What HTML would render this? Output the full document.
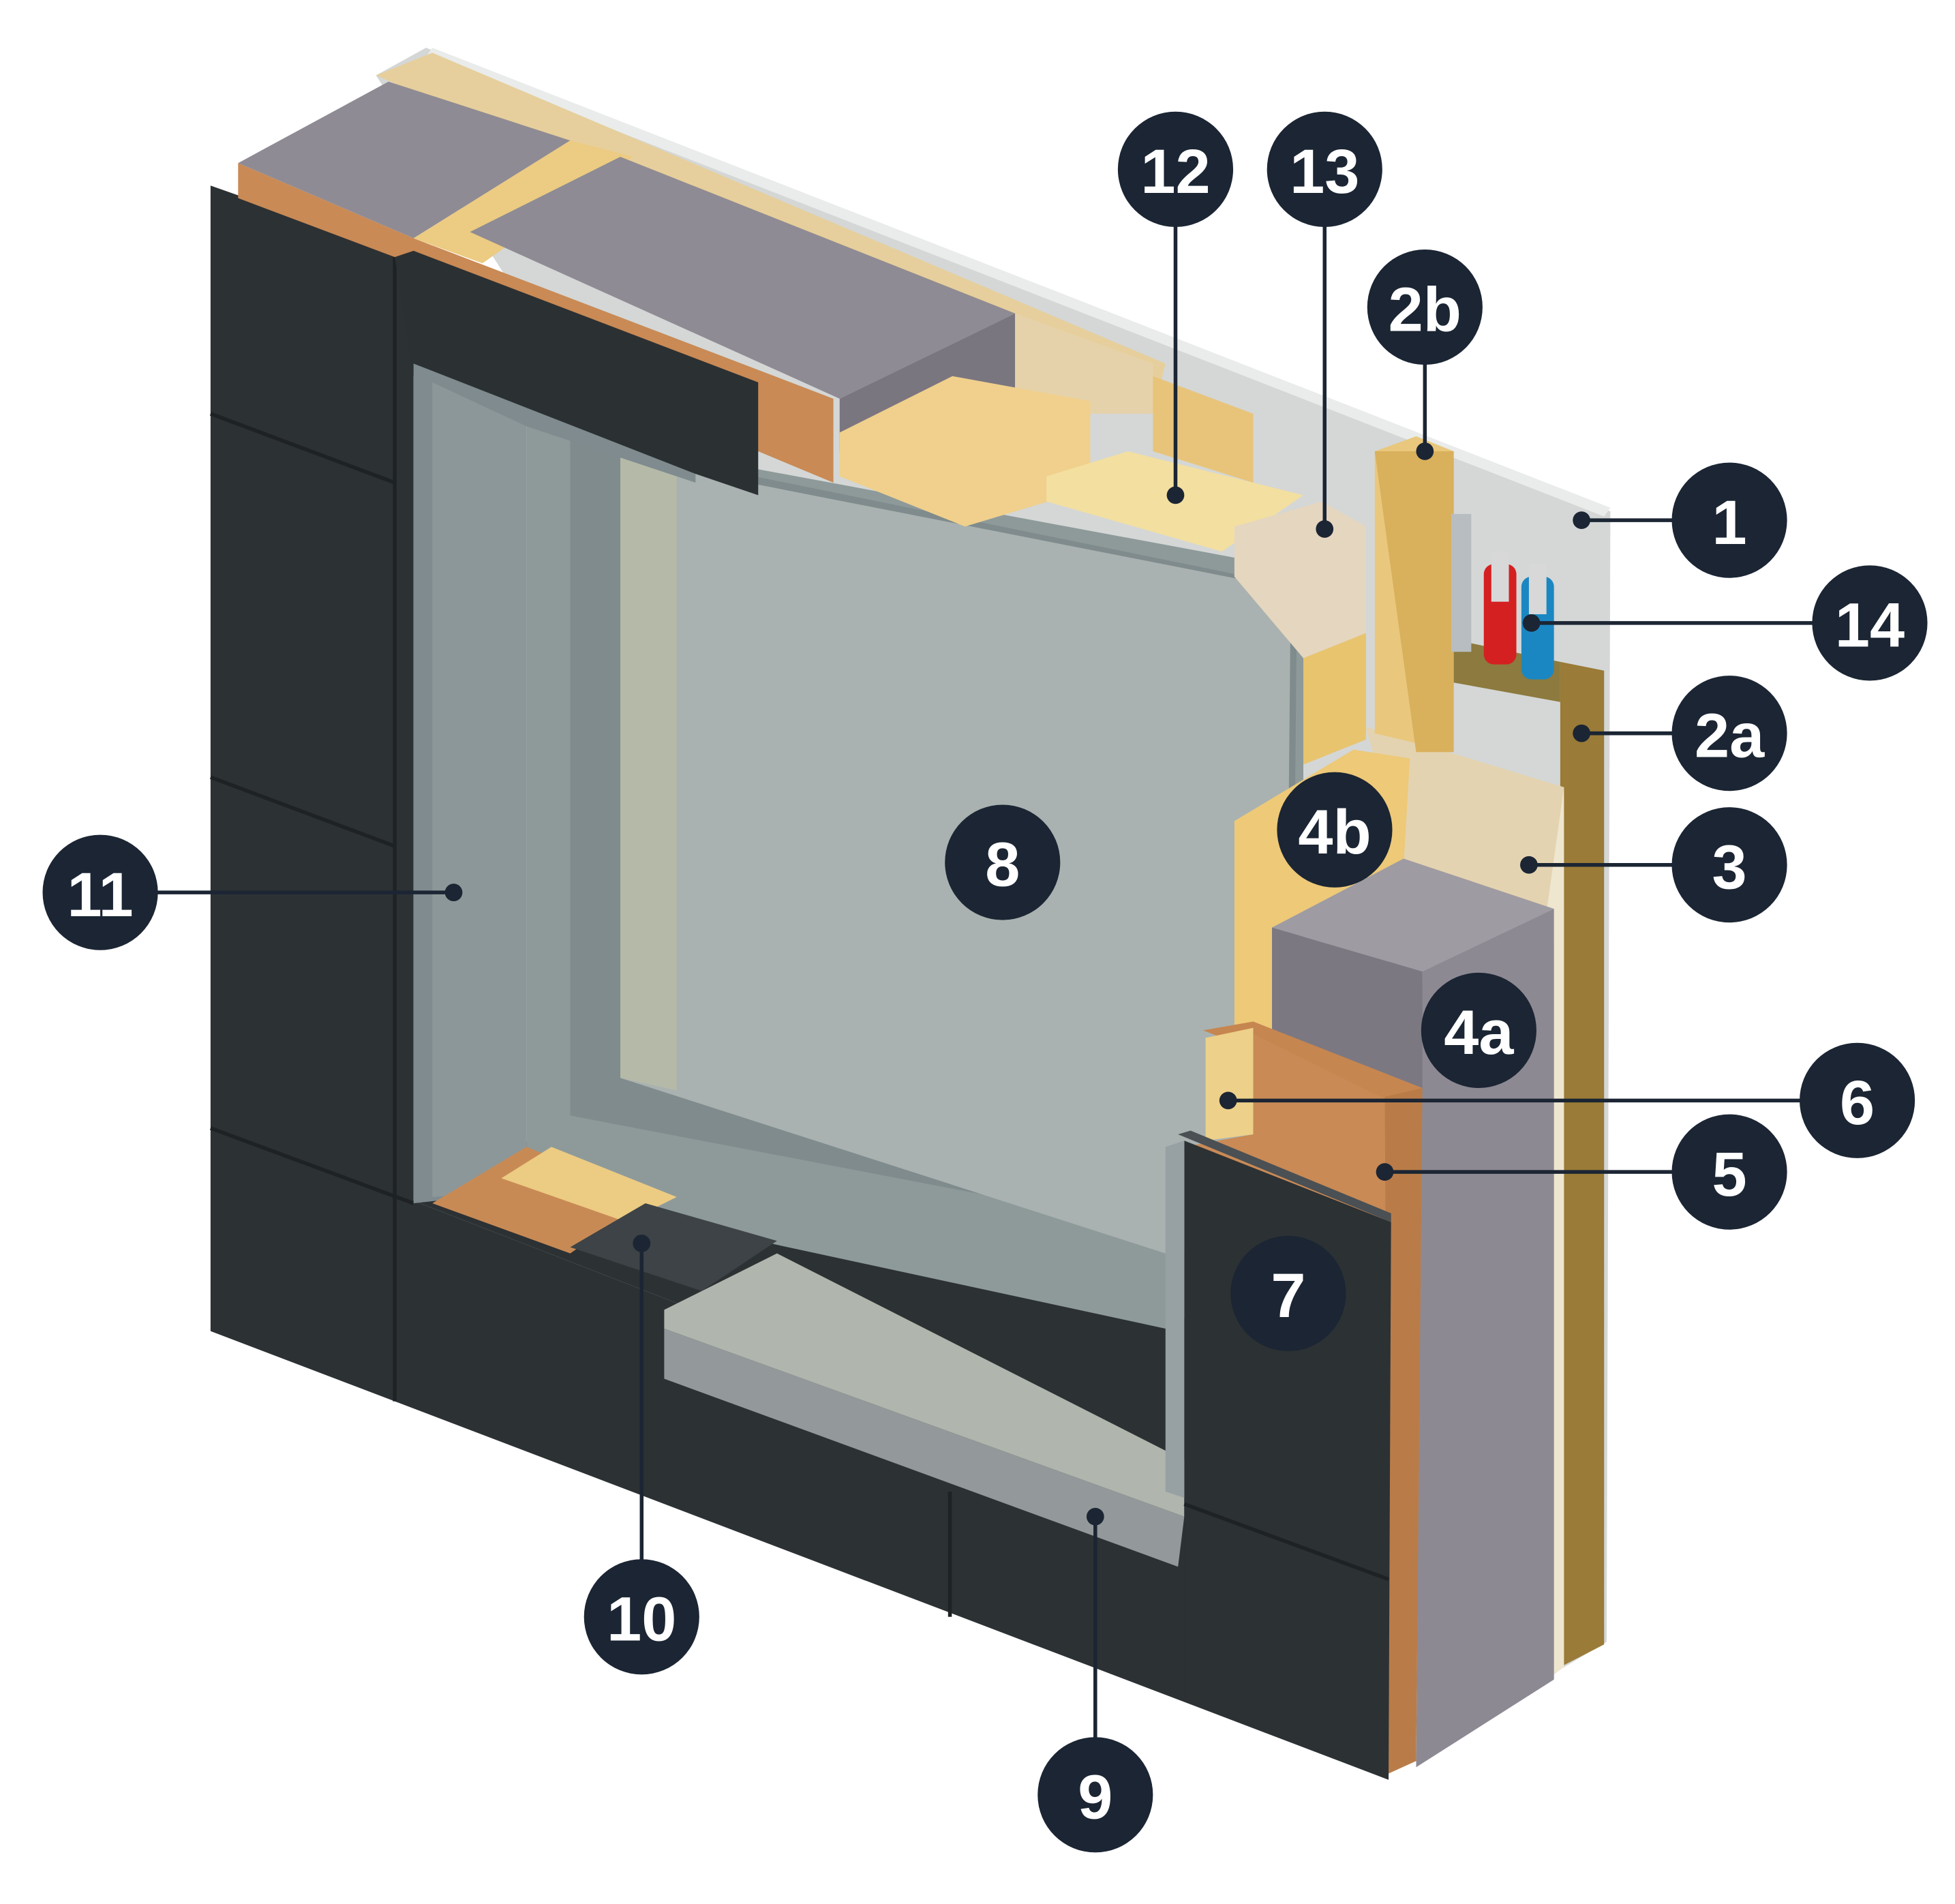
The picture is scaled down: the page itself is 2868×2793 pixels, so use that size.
<!DOCTYPE html>
<html><head><meta charset="utf-8"><style>
html,body{margin:0;padding:0;background:#fff;}
svg{display:block;}
text{font-family:"Liberation Sans",sans-serif;font-weight:bold;fill:#fff;text-anchor:middle;dominant-baseline:central;}
</style></head><body>
<svg width="2868" height="2793" viewBox="0 0 1560 1519" xmlns="http://www.w3.org/2000/svg">
<polygon points="340,38 1285,408 1282,1310 1240,1335 1100,1300 300,60" fill="#d4d7d6"/>
<polygon points="345,38 1285,405 1280,412 340,45" fill="#e9ecea"/>
<polygon points="300,60 345,42 930,290 920,330" fill="#e6cf9c"/>
<polygon points="168,148 330,205 330,958 940,1195 940,910 1110,975 1108,1420 168,1062" fill="#2c3134"/>
<polygon points="330,958 940,1195 945,990 345,900" fill="#2c3134"/>
<line x1="168" y1="330" x2="315" y2="385" stroke="#1e2224" stroke-width="3"/>
<line x1="168" y1="620" x2="315" y2="675" stroke="#1e2224" stroke-width="3"/>
<line x1="168" y1="900" x2="330" y2="960" stroke="#1e2224" stroke-width="3"/>
<line x1="315" y1="200" x2="315" y2="1118" stroke="#1e2224" stroke-width="3"/>
<line x1="758" y1="1190" x2="758" y2="1290" stroke="#1e2224" stroke-width="3"/>
<polygon points="420,340 1040,455 1040,1000 930,1060 420,950" fill="#8e9a9a"/>
<polygon points="455,350 1035,468 1030,1000 455,890" fill="#7f8b8c"/>
<polygon points="495,365 1030,470 1025,990 930,1000 495,860" fill="#a9b2b0"/>
<polygon points="495,365 540,375 540,870 495,860" fill="#b5b9a8"/>
<polygon points="330,285 555,370 555,385 420,340 420,950 330,960" fill="#7f8b8e"/>
<polygon points="345,305 420,340 420,950 345,955" fill="#8c9799"/>
<polygon points="345,960 420,915 520,955 455,1000" fill="#c88a55"/>
<polygon points="400,940 440,915 540,955 500,975" fill="#eccb82"/>
<polygon points="455,995 515,960 620,990 560,1030" fill="#3d4346"/>
<polygon points="530,1045 620,1000 945,1165 945,1210 530,1060" fill="#b0b5ad"/>
<polygon points="530,1060 945,1210 940,1250 530,1100" fill="#93999a"/>
<polygon points="190,130 310,65 455,112 330,190" fill="#8f8b94"/>
<polygon points="330,190 455,112 505,125 385,210" fill="#eccb82"/>
<polygon points="190,130 330,190 665,318 665,385 605,360 315,205 190,158" fill="#c98a55"/>
<polygon points="375,185 495,125 810,250 670,318" fill="#8f8b94"/>
<polygon points="670,318 810,250 810,330 670,360" fill="#7a7680"/>
<polygon points="810,250 920,290 920,330 810,330" fill="#e6d2aa"/>
<polygon points="670,345 760,300 870,320 870,390 770,420 670,380" fill="#f0d08c"/>
<polygon points="835,380 900,360 1040,395 975,440 835,400" fill="#f3dfa0"/>
<polygon points="920,300 1000,330 1000,385 920,360" fill="#e8c47a"/>
<polygon points="985,420 1055,400 1090,420 1090,505 1040,525 985,460" fill="#e5d6bf"/>
<polygon points="315,205 330,200 605,305 605,395 555,378 330,290 330,300" fill="#2b3033"/>
<polygon points="1245,528 1280,535 1280,1312 1245,1330" fill="#9a7b37"/>
<polygon points="1135,505 1245,528 1245,560 1135,540" fill="#8c7a3e"/>
<polygon points="1233,632 1248,628 1248,1330 1235,1340" fill="#efe6d0"/>
<polygon points="1090,580 1248,628 1233,735 1120,690" fill="#e4d3b0"/>
<polygon points="985,655 1080,598 1125,605 1120,690 1015,740 1015,830 985,820" fill="#edc978"/>
<polygon points="1040,525 1090,505 1090,590 1040,610" fill="#e8c46f"/>
<polygon points="1015,740 1120,685 1240,725 1135,775" fill="#9e9ba3"/>
<polygon points="1135,775 1240,725 1240,1340 1130,1410" fill="#8d8993"/>
<polygon points="1015,740 1135,775 1135,870 1015,835" fill="#7c7882"/>
<polygon points="1097,360 1130,348 1160,360 1160,600 1097,585" fill="#e9c77c"/>
<polygon points="1097,360 1160,360 1160,600 1130,600" fill="#d9b05c"/>
<rect x="1158" y="410" width="16" height="110" fill="#b7bdc0"/>
<rect x="1184" y="450" width="26" height="80" fill="#d42020" rx="8"/>
<rect x="1190" y="440" width="14" height="40" fill="#d8d8d8"/>
<rect x="1214" y="460" width="26" height="82" fill="#1b87c2" rx="8"/>
<rect x="1220" y="450" width="14" height="40" fill="#d8d8d8"/>
<polygon points="960,822 1000,815 1135,868 1108,880" fill="#c68650"/>
<polygon points="1000,825 1108,878 1108,980 945,915 1000,905" fill="#c98a55"/>
<polygon points="1105,875 1135,868 1130,1405 1108,1415" fill="#b97c48"/>
<polygon points="962,828 1000,820 1000,905 962,910" fill="#edd089"/>
<polygon points="945,910 1110,975 1108,1420 945,1355" fill="#2c3134"/>
<polygon points="940,905 950,902 1110,968 1110,975" fill="#4a5054"/>
<line x1="945" y1="1200" x2="1108" y2="1260" stroke="#1e2224" stroke-width="3"/>
<polygon points="930,915 945,910 945,1195 930,1190" fill="#97a1a3"/>
<g stroke="#1b2533" stroke-width="3" fill="none">
<line x1="938" y1="180" x2="938" y2="395"/>
<line x1="1057" y1="180" x2="1057" y2="422"/>
<line x1="1137" y1="290" x2="1137" y2="360"/>
<line x1="1335" y1="415" x2="1262" y2="415"/>
<line x1="1447" y1="497" x2="1222" y2="497"/>
<line x1="1335" y1="585" x2="1262" y2="585"/>
<line x1="1335" y1="690" x2="1220" y2="690"/>
<line x1="125" y1="712" x2="362" y2="712"/>
<line x1="1437" y1="878" x2="980" y2="878"/>
<line x1="1335" y1="935" x2="1105" y2="935"/>
<line x1="512" y1="1245" x2="512" y2="992"/>
<line x1="874" y1="1387" x2="874" y2="1210"/>
</g>
<g fill="#1b2533">
<circle cx="938" cy="395" r="7"/><circle cx="1057" cy="422" r="7"/><circle cx="1137" cy="360" r="7"/>
<circle cx="1262" cy="415" r="7"/><circle cx="1222" cy="497" r="7"/><circle cx="1262" cy="585" r="7"/>
<circle cx="1220" cy="690" r="7"/><circle cx="362" cy="712" r="7"/><circle cx="980" cy="878" r="7"/>
<circle cx="1105" cy="935" r="7"/><circle cx="512" cy="992" r="7"/><circle cx="874" cy="1210" r="7"/>
</g>
<g>
<circle cx="938" cy="135" r="46" fill="#1b2533"/><text x="938" y="137" font-size="50">12</text>
<circle cx="1057" cy="135" r="46" fill="#1b2533"/><text x="1057" y="137" font-size="50">13</text>
<circle cx="1137" cy="245" r="46" fill="#1b2533"/><text x="1137" y="247" font-size="50">2b</text>
<circle cx="1380" cy="415" r="46" fill="#1b2533"/><text x="1380" y="417" font-size="50">1</text>
<circle cx="1492" cy="497" r="46" fill="#1b2533"/><text x="1492" y="499" font-size="50">14</text>
<circle cx="1380" cy="585" r="46" fill="#1b2533"/><text x="1380" y="587" font-size="50">2a</text>
<circle cx="1380" cy="690" r="46" fill="#1b2533"/><text x="1380" y="692" font-size="50">3</text>
<circle cx="1065" cy="662" r="46" fill="#1b2533"/><text x="1065" y="664" font-size="50">4b</text>
<circle cx="800" cy="688" r="46" fill="#1b2533"/><text x="800" y="690" font-size="50">8</text>
<circle cx="80" cy="712" r="46" fill="#1b2533"/><text x="80" y="714" font-size="50">11</text>
<circle cx="1180" cy="822" r="46" fill="#1b2533"/><text x="1180" y="824" font-size="50">4a</text>
<circle cx="1482" cy="878" r="46" fill="#1b2533"/><text x="1482" y="880" font-size="50">6</text>
<circle cx="1380" cy="935" r="46" fill="#1b2533"/><text x="1380" y="937" font-size="50">5</text>
<circle cx="1028" cy="1032" r="46" fill="#1b2533"/><text x="1028" y="1034" font-size="50">7</text>
<circle cx="512" cy="1290" r="46" fill="#1b2533"/><text x="512" y="1292" font-size="50">10</text>
<circle cx="874" cy="1432" r="46" fill="#1b2533"/><text x="874" y="1434" font-size="50">9</text>
</g>
</svg>
</body></html>
